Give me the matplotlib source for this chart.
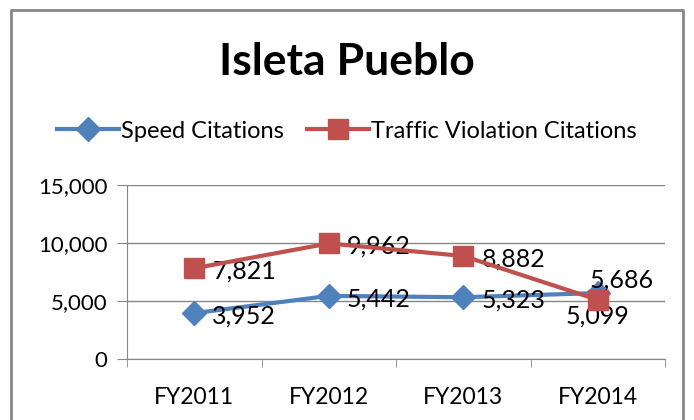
import numpy as np
import matplotlib
matplotlib.use("Agg")
import matplotlib.pyplot as plt
from matplotlib.ticker import FuncFormatter

plt.rcParams['font.family'] = ['Lato', 'DejaVu Sans']

# chart data
years = ["FY2011", "FY2012", "FY2013", "FY2014"]
speed = [3952, 5442, 5323, 5686]
traffic = [7821, 9962, 8882, 5099]

blue = "#4F81BD"
red = "#C0504D"
grey = "#868686"

fig = plt.figure(figsize=(6.94, 4.2), dpi=100)
ax = fig.add_axes([127/694, 1-359/420, (665-127)/694, (359-185)/420])

x = np.arange(len(years))
ax.plot(x, speed, color=blue, lw=3, marker="D", ms=12, label="Speed Citations", zorder=3)
ax.plot(x, traffic, color=red, lw=3, marker="s", ms=15, label="Traffic Violation Citations", zorder=4)

ax.set_xlim(-0.5, len(years) - 0.5)
ax.set_ylim(0, 15000)
ax.set_yticks(np.arange(0, 15001, 5000))
ax.yaxis.set_major_formatter(FuncFormatter(lambda v, p: f"{int(v):,}"))
ax.set_xticks(x)
ax.set_xticklabels(years)
ax.set_xticks(np.arange(-0.5, len(years), 1), minor=True)
ax.tick_params(axis="x", which="major", length=0, pad=20, labelsize=16.5)
ax.tick_params(axis="x", which="minor", length=6, color=grey, direction="out")
ax.tick_params(axis="y", length=7, color=grey, labelsize=16, pad=7)
ax.grid(axis="y", color=grey, lw=1)
ax.set_axisbelow(True)
for s in ["top", "right"]:
    ax.spines[s].set_visible(False)
for s in ["left", "bottom"]:
    ax.spines[s].set_color(grey)

# data labels
def fmt(v):
    return f"{v:,}"

lab = 18
for i, v in enumerate(speed):
    if i == 3:
        ax.annotate(fmt(v), (i, v), xytext=(17, 9), textcoords="offset points",
                    ha="center", va="center", fontsize=lab)
    else:
        ax.annotate(fmt(v), (i, v), xytext=(13, -2), textcoords="offset points",
                    ha="left", va="center", fontsize=lab)
for i, v in enumerate(traffic):
    if i == 3:
        ax.annotate(fmt(v), (i, v), xytext=(0, -12), textcoords="offset points",
                    ha="center", va="center", fontsize=lab)
    else:
        ax.annotate(fmt(v), (i, v), xytext=(13, -2), textcoords="offset points",
                    ha="left", va="center", fontsize=lab)

fig.text(0.5, 1-62/420, "Isleta Pueblo", ha="center", va="center",
         fontsize=32, fontweight="bold")
fig.legend(loc="center", bbox_to_anchor=(0.5, 1-131/420), ncol=2, frameon=False,
           fontsize=17, handlelength=2.6, columnspacing=1.0, handletextpad=0.1)

# chart border
fig.add_artist(plt.Line2D([11/694, 11/694, 683/694, 683/694],
                          [0, 1-10/420, 1-10/420, 0], color=grey, lw=2,
                          transform=fig.transFigure))

fig.savefig("out.png", dpi=100)
